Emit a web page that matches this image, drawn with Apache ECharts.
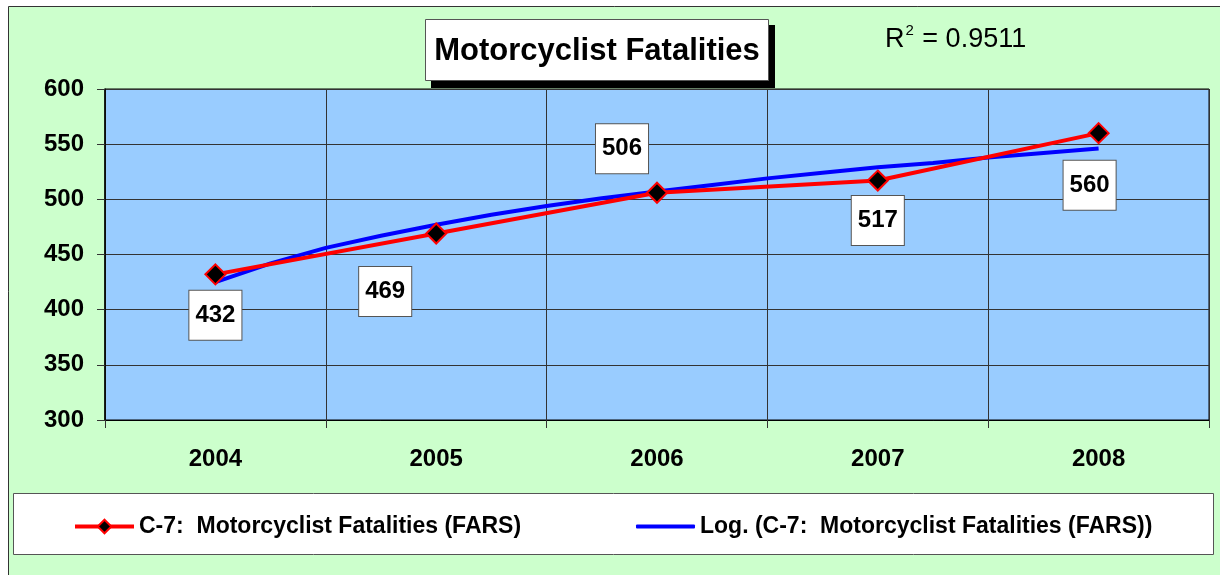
<!DOCTYPE html>
<html><head><meta charset="utf-8">
<script src="https://cdn.jsdelivr.net/npm/echarts@6/dist/echarts.min.js"></script>
<style>html,body{margin:0;padding:0;background:#fff}#c{width:1220px;height:575px}</style>
</head><body><div id="c"></div>
<script>
const years = ['2004','2005','2006','2007','2008'];
const fatalities = [432, 469, 506, 517, 560];
// logarithmic trend line, values at quarter-year steps (1 = 2004)
const trendX = [1, 1.25, 1.5, 1.75, 2, 2.25, 2.5, 2.75, 3, 3.25, 3.5, 3.75, 4, 4.25, 4.5, 4.75, 5];
const trendY = [425, 442, 456, 467, 477, 486, 494, 501, 507, 513, 519, 524, 529, 533, 538, 542, 546];
const yTicks = [300, 350, 400, 450, 500, 550, 600];
const seriesName = 'C-7:  Motorcyclist Fatalities (FARS)';
const trendName = 'Log. (C-7:  Motorcyclist Fatalities (FARS))';
const rSquared = '0.9511';

const labelOffsets = [[0, 41], [-51, 58], [-35, -44], [0, 40], [-9, 52]];
const FONT = '"Liberation Sans", Arial, sans-serif';

const chart = echarts.init(document.getElementById('c'), null, {renderer: 'canvas'});
chart.setOption({
  animation: false,
  backgroundColor: '#ffffff',
  graphic: [
    {type: 'rect', z: -10, shape: {x: 8.5, y: 6.5, width: 1230, height: 600},
     style: {fill: '#CCFFCC', stroke: '#333', lineWidth: 1}},
    {type: 'rect', z: 10, shape: {x: 431, y: 25, width: 344, height: 63}, style: {fill: '#000'}},
    {type: 'rect', z: 11, shape: {x: 425.5, y: 19.5, width: 343, height: 61},
     style: {fill: '#fff', stroke: '#555', lineWidth: 1}},
    {type: 'text', z: 12, x: 597, y: 51,
     style: {text: 'Motorcyclist Fatalities', font: 'bold 31px ' + FONT, fill: '#000',
             align: 'center', verticalAlign: 'middle'}},
    {type: 'text', z: 12, x: 885, y: 38,
     style: {text: '{r|R}{s|2}{r| = ' + rSquared + '}', verticalAlign: 'middle',
             rich: {r: {font: '27px ' + FONT, fill: '#000', verticalAlign: 'bottom', lineHeight: 30},
                    s: {font: '15px ' + FONT, fill: '#000', verticalAlign: 'top', lineHeight: 30, padding: [0, 1, 14, 1]}}}},
    {type: 'rect', z: 1, shape: {x: 13.5, y: 493.5, width: 1200, height: 61},
     style: {fill: '#fff', stroke: '#555', lineWidth: 1}}
  ],
  grid: {left: 105, top: 89, right: 11, bottom: 155, show: true,
         backgroundColor: '#99CCFF', borderColor: '#000', borderWidth: 1},
  legend: [
    {data: [seriesName], left: 68, top: 510, itemWidth: 59, itemHeight: 17, z: 5,
     lineStyle: {width: 4, color: '#FF0000'},
     textStyle: {fontFamily: FONT, fontWeight: 'bold', fontSize: 23, color: '#000'}},
    {data: [{name: trendName, icon: 'roundRect'}], left: 631, top: 510, itemWidth: 59, itemHeight: 4, z: 5,
     textStyle: {fontFamily: FONT, fontWeight: 'bold', fontSize: 23, color: '#000'}}
  ],
  xAxis: [
    {type: 'category', data: years, boundaryGap: true,
     axisLine: {show: true, lineStyle: {color: '#000', width: 1}},
     axisTick: {show: true, length: 8, lineStyle: {color: '#333'}},
     splitLine: {show: true, lineStyle: {color: '#333', width: 1}},
     axisLabel: {margin: 27, fontFamily: FONT, fontWeight: 'bold', fontSize: 24, color: '#000'}},
    {type: 'value', min: 0.5, max: 5.5, show: false, splitLine: {show: false}}
  ],
  yAxis: {type: 'value', min: yTicks[0], max: yTicks[yTicks.length - 1], interval: 50,
    axisLine: {show: true, lineStyle: {color: '#000', width: 1.5}},
    axisTick: {show: true, length: 8, lineStyle: {color: '#333'}},
    splitLine: {show: true, lineStyle: {color: '#333', width: 1}},
    axisLabel: {margin: 21, fontFamily: FONT, fontWeight: 'bold', fontSize: 24, color: '#000'}},
  series: [
    {name: trendName, type: 'line', xAxisIndex: 1, z: 3,
     data: trendX.map((x, i) => [x, trendY[i]]), showSymbol: false, symbol: 'none',
     lineStyle: {color: '#0000FF', width: 4}, itemStyle: {color: '#0000FF'}},
    {name: seriesName, type: 'line', xAxisIndex: 0, z: 4,
     data: fatalities.map((v, i) => ({value: v, label: {offset: labelOffsets[i]}})),
     symbol: 'diamond', symbolSize: 20,
     lineStyle: {color: '#FF0000', width: 4},
     itemStyle: {color: '#000', borderColor: '#FF0000', borderWidth: 2},
     label: {show: true, position: 'inside', fontFamily: FONT, fontWeight: 'bold', fontSize: 24,
             color: '#000', backgroundColor: '#fff', borderColor: '#555', borderWidth: 1,
             padding: [12, 6, 12, 6], lineHeight: 25}}
  ]
});
</script></body></html>
